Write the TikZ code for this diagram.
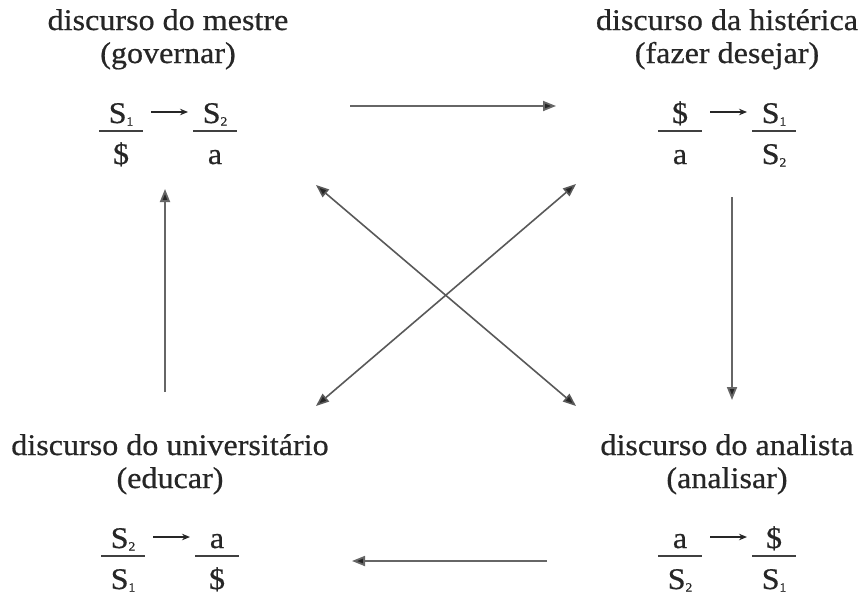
\documentclass[tikz,border=0pt]{standalone}
\usepackage{fontspec}
\setmainfont{Liberation Serif}[FakeStretch=1.07,FakeBold=0.6]
\usetikzlibrary{arrows.meta}
\newcommand\subidx[1]{\raisebox{-2.5pt}{\fontsize{12.5}{12.5}\selectfont #1}}
\newcommand\barS{\$}
\begin{document}
\begin{tikzpicture}[x=1pt,y=-1pt,
  ttl/.style={font=\fontsize{30}{34}\selectfont, anchor=base, inner sep=0pt, text=black!85},
  sym/.style={font=\fontsize{30}{34}\selectfont, anchor=base, inner sep=0pt, text=black!85},
  fracrule/.style={line width=1.4pt, black!75},
  smallarrow/.style={line width=1.3pt, black!85, -{Stealth[length=8pt,width=6.5pt]}},
  bigarrow/.style={line width=1.8pt, black!60, -{Triangle[length=13pt,width=10pt,fill=black!85]}},
  bigboth/.style={line width=1.6pt, black!65, {Triangle[length=13pt,width=10pt,fill=black!85]}-{Triangle[length=13pt,width=10pt,fill=black!85]}}
]
\useasboundingbox (0,0) rectangle (864,598);
\newcommand\discurso[9]{%
  \node[ttl] (#1t1) at (#2,#3) {#4};
  \node[ttl] (#1t2) at (#2,#3+33) {#5};
  \node[sym] (#1nl) at (#2-47,#3+93) {#6};
  \node[sym] (#1dl) at (#2-47,#3+134) {#7};
  \node[sym] (#1nr) at (#2+47,#3+93) {#8};
  \node[sym] (#1dr) at (#2+47,#3+134) {#9};
  \draw[fracrule] (#2-69,#3+101) -- (#2-25,#3+101);
  \draw[fracrule] (#2+25,#3+101) -- (#2+69,#3+101);
  \coordinate (#1as) at (#2-17,#3+82);
  \coordinate (#1ae) at (#2+20,#3+82);
  \draw[smallarrow] (#1as) -- (#1ae);
}
\discurso{m}{168}{30}{discurso do mestre}{(governar)}{S\subidx{1}}{\barS}{S\subidx{2}}{a}
\discurso{h}{727}{30}{discurso da histérica}{(fazer desejar)}{\barS}{a}{S\subidx{1}}{S\subidx{2}}
\discurso{u}{170}{455}{discurso do universitário}{(educar)}{S\subidx{2}}{S\subidx{1}}{a}{\barS}
\discurso{n}{727}{455}{discurso do analista}{(analisar)}{a}{S\subidx{2}}{\barS}{S\subidx{1}}
% big connectors
\coordinate (mh1) at (350,106);  \coordinate (mh2) at (556,106);
\coordinate (hn1) at (732,197);  \coordinate (hn2) at (732,400);
\coordinate (nu1) at (547,561);  \coordinate (nu2) at (352,561);
\coordinate (um1) at (165,392);  \coordinate (um2) at (165,189);
\coordinate (dmw) at (316,185);  \coordinate (dse) at (576,406);
\coordinate (dne) at (576,184);  \coordinate (dsw) at (316,406);
\draw[bigarrow] (mh1) -- (mh2);
\draw[bigarrow] (hn1) -- (hn2);
\draw[bigarrow] (nu1) -- (nu2);
\draw[bigarrow] (um1) -- (um2);
\draw[bigboth] (dmw) -- (dse);
\draw[bigboth] (dsw) -- (dne);
\end{tikzpicture}
\end{document}
